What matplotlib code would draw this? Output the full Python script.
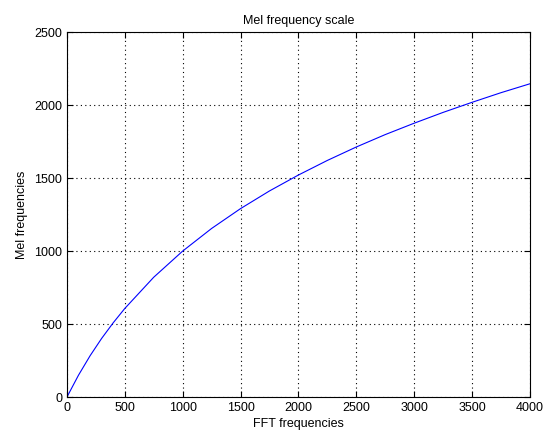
import matplotlib
matplotlib.use("Agg")
import matplotlib.pyplot as plt

# values
fft_freq = [0, 100, 200, 300, 400, 500, 750, 1000, 1250, 1500, 1750, 2000,
            2250, 2500, 2750, 3000, 3250, 3500, 3750, 4000]
mel_freq = [0, 150, 283, 402, 509, 607, 821, 1000, 1155, 1291, 1412, 1521,
            1621, 1713, 1798, 1876, 1950, 2019, 2085, 2146]

plt.rcParams['font.family'] = ['Liberation Sans', 'DejaVu Sans']
plt.rcParams['font.size'] = 9

fig = plt.figure(figsize=(5.44, 4.34), dpi=100)
ax = fig.add_axes([0.123, 0.085, 0.851, 0.841])
ax.plot(fft_freq, mel_freq, color="#0000ff", linewidth=0.8)
ax.set_xlim(0, 4000)
ax.set_ylim(0, 2500)
ax.set_xticks(range(0, 4001, 500))
ax.set_yticks(range(0, 2501, 500))
ax.grid(True, linestyle=(0, (1, 3)), color="black", linewidth=0.8)
ax.tick_params(direction="in", length=4, top=True, right=True)
ax.set_xlabel("FFT frequencies", labelpad=3)
ax.set_ylabel("Mel frequencies")
ax.set_title("Mel frequency scale", fontsize=9)
fig.savefig("out.png")
